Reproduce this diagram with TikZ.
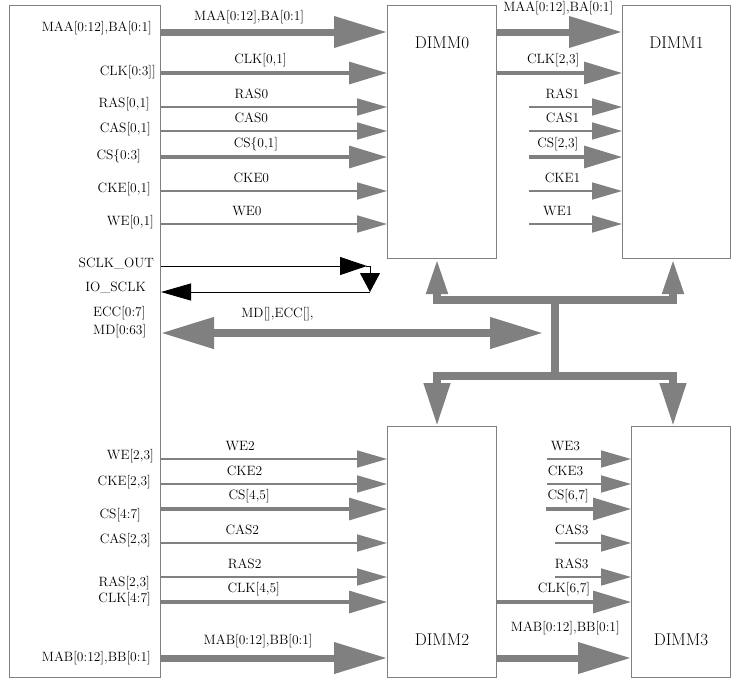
\documentclass[tikz,border=0pt]{standalone}
\usepackage{fontspec}
\usetikzlibrary{arrows.meta}
\definecolor{sigGray}{HTML}{808080}

\begin{document}
\begin{tikzpicture}[x=1pt,y=-1pt,
    every node/.style={font=\fontsize{13.5}{16}\selectfont, inner sep=1pt, text height=9.5pt, text depth=3pt},
    unit/.style={draw=sigGray, line width=1pt, anchor=north west, inner sep=0pt},
    unitname/.style={font=\fontsize{17}{20}\selectfont, text height=11.5pt, text depth=0pt},
    pin/.style={anchor=east},
    thinsig/.style={draw=sigGray, line width=1.7pt, -{Triangle[length=30pt,width=17pt]}},
    midsig/.style={draw=sigGray, line width=3.2pt, -{Triangle[length=38pt,width=22pt]}},
    widesig/.style={draw=sigGray, line width=7pt, -{Triangle[length=53pt,width=30pt]}},
    bus/.style={draw=sigGray, line width=7.5pt},
    clkline/.style={draw=black, line width=1pt}]
  \useasboundingbox (0,0) rectangle (731,678);

  % controller and the four modules
  \node[unit, minimum width=151pt, minimum height=672pt] (ctrl) at (9,5) {};
  \node[unit, minimum width=109pt, minimum height=253pt] (dimm0) at (387,5) {};
  \node[unit, minimum width=108pt, minimum height=253pt] (dimm1) at (622,5) {};
  \node[unit, minimum width=109pt, minimum height=251pt] (dimm2) at (387,426) {};
  \node[unit, minimum width=99pt, minimum height=251pt] (dimm3) at (631,426) {};
  \node[unitname] (name0) at (dimm0.north |- 0,43) {DIMM0};
  \node[unitname] (name1) at (dimm1.north |- 0,43) {DIMM1};
  \node[unitname] (name2) at (dimm2.south |- 0,640) {DIMM2};
  \node[unitname] (name3) at (dimm3.south |- 0,640) {DIMM3};

  % controller pins
  \foreach \y/\xe/\txt in {28/153/{MAA[0:12],BA[0:1]}, 72/157/{CLK[0:3]]}, 104/151/{RAS[0,1]},
      129/152/{CAS[0,1]}, 156/142/{CS\{0:3]}, 189/152/{CKE[0,1]}, 222/155/{WE[0,1]},
      264/155/{SCLK\_OUT}, 288/147/{IO\_SCLK}, 456/155/{WE[2,3]}, 482/152/{CKE[2,3]},
      515/142/{CS[4:7]}, 540/152/{CAS[2,3]}, 583/151/{RAS[2,3]}, 599/152/{CLK[4:7]},
      658/152/{MAB[0:12],BB[0:1]}}
    \node[pin] (pin\y) at (\xe,\y) {\txt};
  \node[anchor=west] (eccpin) at (92,313) {ECC[0:7]};
  \node[anchor=west] (mdpin) at (92,331) {MD[0:63]};

  % upper pair
  \draw[widesig] (ctrl.east |- 0,32) -- node[above=4pt, pos=0.39] {MAA[0:12],BA[0:1]} (dimm0.west |- 0,32);
  \foreach \y/\p/\txt in {73/0.44/{CLK[0,1]}, 157/0.42/{CS\{0,1]}}
    \draw[midsig] (ctrl.east |- 0,\y) -- node[above=4pt, pos=\p] {\txt} (dimm0.west |- 0,\y);
  \foreach \y/\p/\txt in {107/0.40/RAS0, 131/0.40/CAS0, 191/0.40/CKE0, 224/0.38/WE0}
    \draw[thinsig] (ctrl.east |- 0,\y) -- node[above=4pt, pos=\p] {\txt} (dimm0.west |- 0,\y);

  \draw[widesig] (dimm0.east |- 0,32) -- node[above=13pt, pos=0.49] {MAA[0:12],BA[0:1]} (dimm1.west |- 0,32);
  \draw[midsig] (dimm0.east |- 0,73) -- node[above=4pt, pos=0.45] {CLK[2,3]} (dimm1.west |- 0,73);
  \draw[midsig] ([xshift=32pt]dimm0.east |- 0,157) -- node[above=4pt, pos=0.31] {CS[2,3]} (dimm1.west |- 0,157);
  \foreach \y/\p/\txt in {107/0.36/RAS1, 131/0.36/CAS1, 191/0.36/CKE1, 224/0.31/WE1}
    \draw[thinsig] ([xshift=32pt]dimm0.east |- 0,\y) -- node[above=4pt, pos=\p] {\txt} (dimm1.west |- 0,\y);

  % serial clock loop
  \coordinate (sclkturn) at (370,266);
  \coordinate (sclkret) at (370,292);
  \draw[clkline, -{Triangle[length=27pt,width=18pt]}] (ctrl.east |- sclkturn) -- ([xshift=-3pt]sclkturn);
  \draw[clkline, -{Triangle[length=19pt,width=20pt]}] ([xshift=-4pt]sclkturn) -- (sclkturn) -- (sclkret);
  \draw[clkline, -{Triangle[length=30pt,width=17pt]}] (sclkret) -- (ctrl.east |- sclkret);

  % data bus
  \coordinate (mdend) at (543,333);
  \draw[bus, {Triangle[length=53pt,width=30pt]}-{Triangle[length=53pt,width=30pt]}]
    (ctrl.east |- mdend) -- node[above=8pt, pos=0.305] {MD[],ECC[],} (mdend);
  \draw[bus] (433,300) -- (677,300);
  \draw[bus] (433,376) -- (677,376);
  \draw[bus] (555,296) -- (555,380);
  \draw[bus, -{Triangle[length=35pt,width=20pt]}] (437,304) -- (dimm0.south -| 437,0);
  \draw[bus, -{Triangle[length=35pt,width=20pt]}] (673,304) -- (dimm1.south -| 673,0);
  \draw[bus, -{Triangle[length=43pt,width=25pt]}] (437,372) -- (dimm2.north -| 437,0);
  \draw[bus, -{Triangle[length=43pt,width=25pt]}] (673,372) -- (dimm3.north -| 673,0);

  % lower pair
  \draw[widesig] (ctrl.east |- 0,658) -- node[above=6pt, pos=0.43] {MAB[0:12],BB[0:1]} (dimm2.west |- 0,658);
  \foreach \y/\p/\txt in {509/0.39/{CS[4,5]}, 602/0.41/{CLK[4,5]}}
    \draw[midsig] (ctrl.east |- 0,\y) -- node[above=4pt, pos=\p] {\txt} (dimm2.west |- 0,\y);
  \foreach \y/\p/\txt in {459/0.35/WE2, 484/0.37/CKE2, 543/0.36/CAS2, 577/0.37/RAS2}
    \draw[thinsig] (ctrl.east |- 0,\y) -- node[above=4pt, pos=\p] {\txt} (dimm2.west |- 0,\y);

  \draw[widesig] (dimm2.east |- 0,658) -- node[above=19pt, pos=0.51] {MAB[0:12],BB[0:1]} (dimm3.west |- 0,658);
  \draw[midsig] (dimm2.east |- 0,602) -- node[above=4pt, pos=0.5] {CLK[6,7]} (dimm3.west |- 0,602);
  \draw[midsig] ([xshift=49pt]dimm2.east |- 0,509) -- node[above=4pt, pos=0.26] {CS[6,7]} (dimm3.west |- 0,509);
  \foreach \y/\dx/\txt in {459/50/WE3, 484/50/CKE3, 543/58/CAS3, 577/58/RAS3}
    \draw[thinsig] ([xshift=\dx pt]dimm2.east |- 0,\y) -- node[above=4pt, pos=0.22] {\txt} (dimm3.west |- 0,\y);
\end{tikzpicture}
\end{document}
